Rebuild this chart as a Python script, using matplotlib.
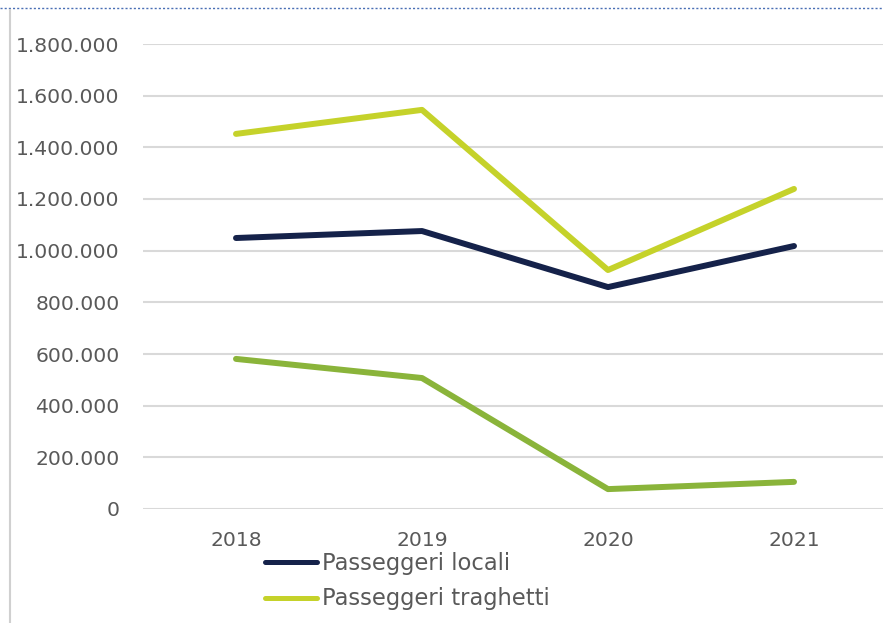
import matplotlib.pyplot as plt
from matplotlib.lines import Line2D
from matplotlib.ticker import FuncFormatter

years = ['2018', '2019', '2020', '2021']
locali = [1049000, 1076000, 859000, 1018000]
traghetti = [1452000, 1545000, 925000, 1239000]
terza_serie = [581000, 507000, 77000, 105000]

plt.rcParams['font.family'] = ['DejaVu Sans']
GREY = '#595959'

fig = plt.figure(figsize=(8.83, 6.23), dpi=100)
W, H = 883, 623
# axes area in pixels: x 143..887 (cropped on the right), y 44..509
ax = fig.add_axes([143 / W, 1 - 509 / H, 744 / W, 465 / H])

x = range(len(years))
ax.plot(x, terza_serie, color='#8ab43a', lw=4.3, solid_capstyle='round', zorder=3)
ax.plot(x, traghetti, color='#c5d22a', lw=4.3, solid_capstyle='round', zorder=3)
ax.plot(x, locali, color='#15224a', lw=4.3, solid_capstyle='round', zorder=4)

ax.set_xlim(-0.5, 3.5)
ax.set_ylim(0, 1800000)
ax.set_yticks(range(0, 1800001, 200000))
ax.yaxis.set_major_formatter(FuncFormatter(lambda v, p: f'{int(v):,}'.replace(',', '.')))
ax.set_xticks(list(x))
ax.set_xticklabels(years)
ax.grid(axis='y', color='#d9d9d9', lw=1.5)
ax.set_axisbelow(True)
for s in ax.spines.values():
    s.set_visible(False)
ax.tick_params(length=0, labelsize=14.6, labelcolor=GREY)
ax.tick_params(axis='y', pad=17)
ax.tick_params(axis='x', pad=16)

handles = [Line2D([], [], color='#15224a', lw=3.6, solid_capstyle='round'),
           Line2D([], [], color='#c5d22a', lw=3.6, solid_capstyle='round')]
fig.legend(handles, ['Passeggeri locali', 'Passeggeri traghetti'],
           loc='upper left', bbox_to_anchor=(265 / W, 1 - 552 / H),
           frameon=False, fontsize=16.3, labelcolor=GREY,
           handlelength=2.3, handletextpad=0.2, labelspacing=0.55,
           borderpad=0, borderaxespad=0)

# frame lines from the surrounding document
fig.add_artist(Line2D([0, 1], [1 - 8 / H, 1 - 8 / H], color='#4a6fb5', lw=1.0, ls=(0, (1.5, 1.5))))
fig.add_artist(Line2D([10 / W, 10 / W], [0, 1 - 10 / H], color='#d0d0d0', lw=1.5))

fig.savefig('out.png', dpi=100)
